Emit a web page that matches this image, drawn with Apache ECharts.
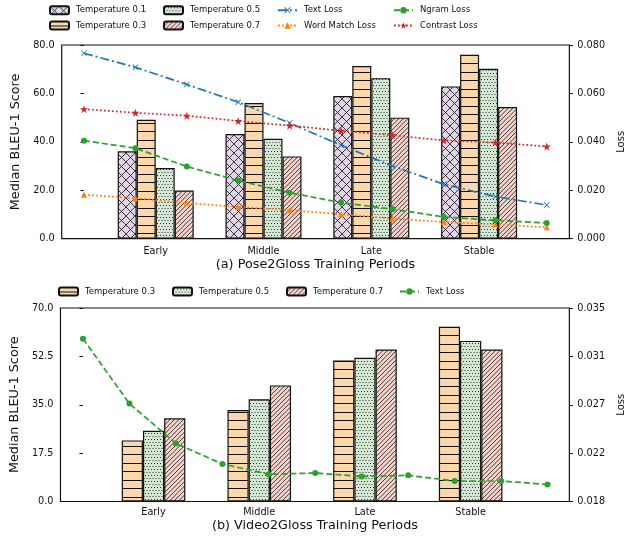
<!DOCTYPE html>
<html>
<head>
<meta charset="utf-8">
<script src="https://cdn.jsdelivr.net/npm/echarts@6/dist/echarts.min.js"></script>
<style>
html,body{margin:0;padding:0;background:#fff;}
#chart{width:634px;height:536px;}
</style>
</head>
<body>
<div id="chart"></div>
<script>
// ---------------- DATA ----------------
const categories = ['Early', 'Middle', 'Late', 'Stable'];

// (a) Pose2Gloss: median BLEU-1 by temperature
const poseT01 = [36.1, 43.2, 58.9, 62.9];
const poseT03 = [49.1, 56.0, 71.3, 76.0];
const poseT05 = [29.2, 41.3, 66.3, 70.2];
const poseT07 = [19.9, 34.0, 50.0, 54.4];
// (a) Pose2Gloss losses (10 checkpoints)
const poseTextLoss     = [0.0766, 0.0708, 0.0637, 0.0564, 0.0478, 0.0386, 0.0300, 0.0225, 0.0174, 0.0139];
const poseWordLoss     = [0.0182, 0.0167, 0.0148, 0.0131, 0.0118, 0.0101, 0.0083, 0.0069, 0.0059, 0.0047];
const poseNgramLoss    = [0.0405, 0.0374, 0.0298, 0.0240, 0.0190, 0.0149, 0.0122, 0.0090, 0.0076, 0.0065];
const poseContrastLoss = [0.0535, 0.0520, 0.0508, 0.0486, 0.0467, 0.0446, 0.0427, 0.0406, 0.0397, 0.0381];

// (b) Video2Gloss: median BLEU-1 by temperature
const videoT03 = [22.1, 33.1, 51.0, 63.2];
const videoT05 = [25.6, 37.0, 52.0, 58.1];
const videoT07 = [30.1, 42.0, 55.0, 55.0];
// (b) Video2Gloss text loss (11 checkpoints)
const videoTextLoss = [0.0323, 0.0266, 0.0231, 0.0213, 0.0204, 0.0205, 0.0202, 0.0203, 0.0198, 0.0198, 0.0195];

// tick labels
const poseLeftTicks   = ['0.0', '20.0', '40.0', '60.0', '80.0'];
const poseRightTicks  = ['0.000', '0.020', '0.040', '0.060', '0.080'];
const videoLeftTicks  = ['0.0', '17.5', '35.0', '52.5', '70.0'];
const videoRightTicks = ['0.018', '0.022', '0.027', '0.031', '0.035'];

// ---------------- STYLE HELPERS ----------------
const FONT = 'DejaVu Sans';
function makePattern(bg, kind) {
  const c = document.createElement('canvas');
  let w = 9, h = 9;
  if (kind === '-') { w = 8; h = 17; }
  if (kind === '.') { w = 6; h = 6; }
  c.width = w; c.height = h;
  const g = c.getContext('2d');
  g.fillStyle = bg; g.fillRect(0, 0, w, h);
  g.strokeStyle = '#111'; g.fillStyle = '#333';
  if (kind === 'x') {
    g.lineWidth = 0.8;
    g.beginPath();
    g.moveTo(-1, -1); g.lineTo(w + 1, h + 1);
    g.moveTo(-1, h + 1); g.lineTo(w + 1, -1);
    g.stroke();
  } else if (kind === '-') {
    g.fillStyle = '#111';
    g.fillRect(0, 4, w, 1);
    g.fillRect(0, 12, w, 1);
  } else if (kind === '.') {
    g.fillRect(1, 1, 1, 1); g.fillRect(4, 1, 1, 1);
    g.fillRect(2.5, 4, 1, 1); g.fillRect(5.5, 4, 1, 1); g.fillRect(-0.5, 4, 1, 1);
  } else if (kind === '/') {
    g.lineWidth = 0.8;
    g.beginPath();
    for (const o of [-w, -w / 2, 0, w / 2, w]) { g.moveTo(o, h); g.lineTo(o + w, 0); }
    g.stroke();
  }
  return { image: c, repeat: 'repeat' };
}
const fillT01 = makePattern('#e1d5e7', 'x');
const fillT03 = makePattern('#fad7ac', '-');
const fillT05 = makePattern('#d5e8d4', '.');
const fillT07 = makePattern('#f8d4cc', '/');

const starPath = 'path://M0,-10L2.35,-3.24L9.51,-3.09L3.8,1.24L5.88,8.09L0,4L-5.88,8.09L-3.8,1.24L-9.51,-3.09L-2.35,-3.24Z';
const xPath = 'path://M0,1L1,0L5,4L9,0L10,1L6,5L10,9L9,10L5,6L1,10L0,9L4,5Z';

function barSeries(name, data, fill, xi, yi, bw) {
  return {
    type: 'bar', name, data, xAxisIndex: xi, yAxisIndex: yi,
    barWidth: bw, barGap: '0%', z: 2,
    itemStyle: { color: fill, borderColor: '#111', borderWidth: 1.2 },
    emphasis: { disabled: true }, animation: false
  };
}
function lineSeries(name, vals, color, dash, symbol, size, xi, yi) {
  return {
    type: 'line', name, xAxisIndex: xi, yAxisIndex: yi, z: 5,
    data: vals.map((v, i) => [i, v]),
    symbol, symbolSize: size, showAllSymbol: true,
    lineStyle: { color, width: 1.7, type: dash },
    itemStyle: { color, borderWidth: 0 },
    emphasis: { disabled: true }, animation: false
  };
}
const tickStyle = { show: true, inside: false, length: 3.5, lineStyle: { color: '#111', width: 1 } };
const lblStyle = { color: '#111', fontFamily: FONT, fontSize: 9.7 };
const nameStyle = { color: '#111', fontFamily: FONT, fontSize: 12.8 };
const lossNameStyle = { color: '#111', fontFamily: FONT, fontSize: 10 };

function legend(names, left, top, orient) {
  return {
    data: names, left, top, orient: orient || 'vertical',
    itemWidth: 19, itemHeight: 8, itemGap: 5.3, padding: 0,
    selectedMode: false,
    textStyle: { fontFamily: FONT, fontSize: 8.5, lineHeight: 10, color: '#111', padding: [0, 0, 0, 2] }
  };
}

// grids geometry
const gA = { left: 61.7, top: 45, width: 515.3, height: 193.7 };
const gB = { left: 59, top: 308, width: 514, height: 193.5 };

const option = {
  backgroundColor: '#fff',
  animation: false,
  legend: [
    legend(['Temperature 0.1', 'Temperature 0.3'], 49, 5.2),
    legend(['Temperature 0.5', 'Temperature 0.7'], 163, 5.2),
    legend(['Text Loss', 'Word Match Loss'], 277, 5.2),
    legend(['Ngram Loss', 'Contrast Loss'], 393, 5.2),
    legend(['Temperature 0.3 '], 58, 286.5),
    legend(['Temperature 0.5 '], 172, 286.5),
    legend(['Temperature 0.7 '], 286, 286.5),
    legend(['Text Loss '], 399, 286.5)
  ],
  grid: [
    Object.assign({ show: true, borderColor: '#111', borderWidth: 1.2, backgroundColor: 'transparent' }, gA),
    { left: 101.8, top: gA.top, width: 431.2, height: gA.height },
    Object.assign({ show: true, borderColor: '#111', borderWidth: 1.2, backgroundColor: 'transparent' }, gB),
    { left: 100.7, top: gB.top, width: 422.8, height: gB.height }
  ],
  xAxis: [
    { gridIndex: 0, type: 'value', min: -0.433, max: 9.44,
      axisLine: { show: false }, axisTick: { show: false }, axisLabel: { show: false }, splitLine: { show: false },
      name: '(a) Pose2Gloss Training Periods', nameLocation: 'middle', nameGap: 19.5, nameTextStyle: nameStyle },
    { gridIndex: 1, type: 'category', data: categories,
      axisLine: { show: false }, axisTick: { show: false }, axisLabel: Object.assign({ margin: 7.5 }, lblStyle) },
    { gridIndex: 2, type: 'value', min: -0.484, max: 10.469,
      axisLine: { show: false }, axisTick: { show: false }, axisLabel: { show: false }, splitLine: { show: false },
      name: '(b) Video2Gloss Training Periods', nameLocation: 'middle', nameGap: 17.5, nameTextStyle: nameStyle },
    { gridIndex: 3, type: 'category', data: categories,
      axisLine: { show: false }, axisTick: { show: false }, axisLabel: Object.assign({ margin: 6 }, lblStyle) }
  ],
  yAxis: [
    { gridIndex: 0, type: 'value', min: 0, max: 80, interval: 20, position: 'left',
      axisLine: { show: false }, axisTick: tickStyle, splitLine: { show: false },
      axisLabel: Object.assign({ margin: 7, formatter: (v, i) => poseLeftTicks[i] }, lblStyle),
      name: 'Median BLEU-1 Score', nameLocation: 'middle', nameGap: 27.5, nameRotate: 90, nameTextStyle: nameStyle },
    { gridIndex: 0, type: 'value', min: 0, max: 0.08, interval: 0.02, position: 'right',
      axisLine: { show: false }, axisTick: tickStyle, splitLine: { show: false },
      axisLabel: Object.assign({ margin: 8, formatter: (v, i) => poseRightTicks[i] }, lblStyle),
      name: 'Loss', nameLocation: 'middle', nameGap: 41, nameRotate: 90, nameTextStyle: lossNameStyle },
    { gridIndex: 1, type: 'value', min: 0, max: 80, show: false },
    { gridIndex: 2, type: 'value', min: 0, max: 70, interval: 17.5, position: 'left',
      axisLine: { show: false }, axisTick: tickStyle, splitLine: { show: false },
      axisLabel: Object.assign({ margin: 7, formatter: (v, i) => videoLeftTicks[i] }, lblStyle),
      name: 'Median BLEU-1 Score', nameLocation: 'middle', nameGap: 25, nameRotate: 90, nameTextStyle: nameStyle },
    { gridIndex: 2, type: 'value', min: 0.018, max: 0.035, interval: 0.00425, position: 'right',
      axisLine: { show: false }, axisTick: tickStyle, splitLine: { show: false },
      axisLabel: Object.assign({ margin: 8, formatter: (v, i) => videoRightTicks[i] }, lblStyle),
      name: 'Loss', nameLocation: 'middle', nameGap: 42, nameRotate: 90, nameTextStyle: lossNameStyle },
    { gridIndex: 3, type: 'value', min: 0, max: 70, show: false }
  ],
  series: [
    barSeries('Temperature 0.1', poseT01, fillT01, 1, 2, 19),
    barSeries('Temperature 0.3', poseT03, fillT03, 1, 2, 19),
    barSeries('Temperature 0.5', poseT05, fillT05, 1, 2, 19),
    barSeries('Temperature 0.7', poseT07, fillT07, 1, 2, 19),
    lineSeries('Text Loss', poseTextLoss, '#1f77b4', [9, 3, 2, 3], xPath, 6, 0, 1),
    lineSeries('Word Match Loss', poseWordLoss, '#ff7f0e', [1.8, 2.2], 'triangle', 6, 0, 1),
    lineSeries('Ngram Loss', poseNgramLoss, '#2ca02c', [6, 3], 'circle', 6, 0, 1),
    lineSeries('Contrast Loss', poseContrastLoss, '#d62728', [1.8, 2.2], starPath, 8, 0, 1),
    barSeries('Temperature 0.3 ', videoT03, fillT03, 3, 5, 21.2),
    barSeries('Temperature 0.5 ', videoT05, fillT05, 3, 5, 21.2),
    barSeries('Temperature 0.7 ', videoT07, fillT07, 3, 5, 21.2),
    lineSeries('Text Loss ', videoTextLoss, '#2ca02c', [6, 3], 'circle', 6, 2, 4)
  ]
};
const chart = echarts.init(document.getElementById('chart'), null, { renderer: 'canvas' });
chart.setOption(option);
</script>
</body>
</html>
